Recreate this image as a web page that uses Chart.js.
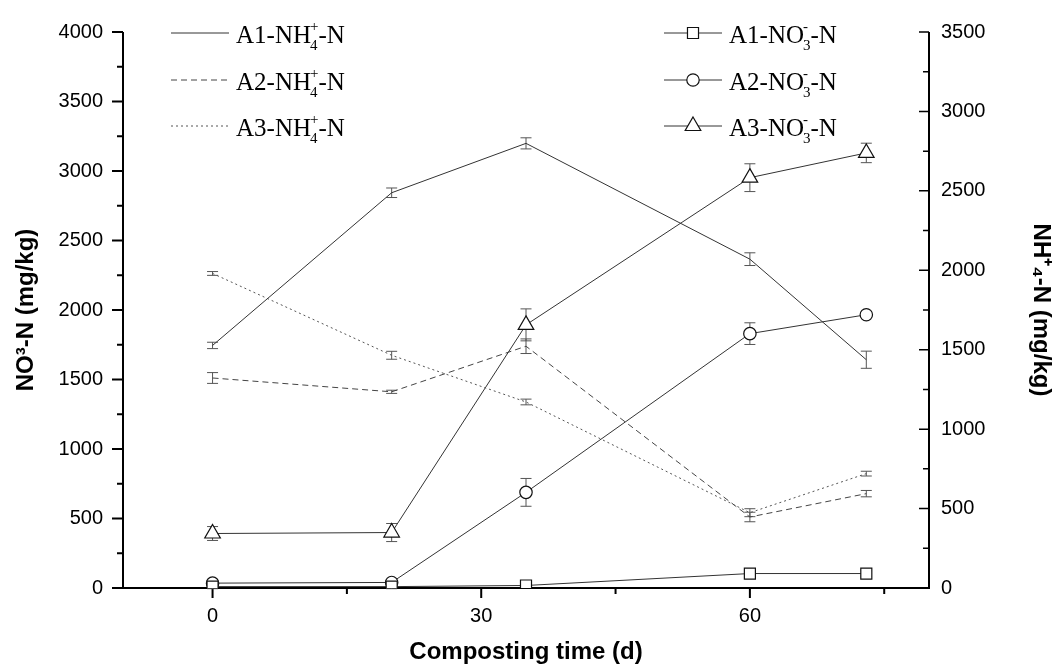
<!DOCTYPE html>
<html>
<head>
<meta charset="utf-8">
<title>NO3-N and NH4-N during composting</title>
<script src="https://cdn.jsdelivr.net/npm/chart.js@4.4.1/dist/chart.umd.min.js"></script>
<style>
    html, body { margin: 0; padding: 0; background: #fff; }
    canvas { display: block; }
</style>
</head>
<body>
<canvas id="compostChart" width="1055" height="667"></canvas>
<script>
// sampling days
const days = [0, 20, 35, 60, 73];

// NH4+-N (right axis, mg/kg)
const a1Nh4 = [1527, 2488, 2799, 2070, 1437];
const a2Nh4 = [1322, 1235, 1522, 447, 594];
const a3Nh4 = [1980, 1465, 1171, 474, 720];
const a1Nh4Err = [20, 30, 35, 40, 54];
const a2Nh4Err = [34, 10, 46, 30, 20];
const a3Nh4Err = [12, 25, 18, 25, 15];

// NO3--N (left axis, mg/kg)
const a1No3 = [10, 10, 18, 104, 104];
const a2No3 = [35, 40, 688, 1830, 1966];
const a3No3 = [392, 399, 1893, 2952, 3130];
const a1No3Err = [15, 15, 15, 20, 20];
const a2No3Err = [10, 10, 100, 78, 15];
const a3No3Err = [50, 65, 115, 100, 70];

// axis ticks
const xTicks = [0, 30, 60];
const xMinorTicks = [15, 45, 75];
const leftTicks = [0, 500, 1000, 1500, 2000, 2500, 3000, 3500, 4000];
const leftMinorTicks = [250, 750, 1250, 1750, 2250, 2750, 3250, 3750];
const rightTicks = [0, 500, 1000, 1500, 2000, 2500, 3000, 3500];
const rightMinorTicks = [250, 750, 1250, 1750, 2250, 2750, 3250];

// legend text pieces: main, superscript, subscript, tail
const legendTexts = [
    ['A1-NH', '+', '4', '-N'],
    ['A2-NH', '+', '4', '-N'],
    ['A3-NH', '+', '4', '-N'],
    ['A1-NO', '-', '3', '-N'],
    ['A2-NO', '-', '3', '-N'],
    ['A3-NO', '-', '3', '-N']
];

const sansFont = '"Liberation Sans", Arial, sans-serif';
const serifFont = '"Liberation Serif", "Times New Roman", serif';

function toPoints(values) {
    return days.map((d, i) => ({ x: d, y: values[i] }));
}

function nh4Set(values, errors, dash, color) {
    return {
        data: toPoints(values),
        errors: errors,
        yAxisID: 'y1',
        borderColor: color,
        borderWidth: 1,
        borderDash: dash,
        pointRadius: 0,
        fill: false,
        tension: 0
    };
}

function no3Set(values, errors, style, radius) {
    return {
        data: toPoints(values),
        errors: errors,
        yAxisID: 'y',
        borderColor: '#333',
        borderWidth: 1,
        pointStyle: style,
        pointRadius: radius,
        pointBorderColor: '#111',
        pointBorderWidth: 1.2,
        pointBackgroundColor: '#fff',
        fill: false,
        tension: 0
    };
}

const datasets = [
    nh4Set(a1Nh4, a1Nh4Err, [], '#333'),
    nh4Set(a2Nh4, a2Nh4Err, [6, 4], '#444'),
    nh4Set(a3Nh4, a3Nh4Err, [2, 3], '#555'),
    no3Set(a1No3, a1No3Err, 'rect', 7.8),
    no3Set(a2No3, a2No3Err, 'circle', 6.2),
    no3Set(a3No3, a3No3Err, 'triangle', 9)
];

// axis lines with outward / inward ticks, Origin style
const axesPlugin = {
    id: 'originAxes',
    beforeDatasetsDraw(chart) {
        const { ctx, chartArea: a, scales } = chart;
        ctx.save();
        ctx.strokeStyle = '#000';
        ctx.lineWidth = 2;
        ctx.beginPath();
        ctx.moveTo(a.left, a.top);
        ctx.lineTo(a.left, a.bottom);
        ctx.lineTo(a.right, a.bottom);
        ctx.lineTo(a.right, a.top);
        ctx.stroke();

        ctx.beginPath();
        xTicks.forEach(v => {
            const px = scales.x.getPixelForValue(v);
            ctx.moveTo(px, a.bottom); ctx.lineTo(px, a.bottom + 10);
        });
        xMinorTicks.forEach(v => {
            const px = scales.x.getPixelForValue(v);
            ctx.moveTo(px, a.bottom); ctx.lineTo(px, a.bottom + 6);
        });
        leftTicks.forEach(v => {
            const py = scales.y.getPixelForValue(v);
            ctx.moveTo(a.left, py); ctx.lineTo(a.left - 11, py);
        });
        leftMinorTicks.forEach(v => {
            const py = scales.y.getPixelForValue(v);
            ctx.moveTo(a.left, py); ctx.lineTo(a.left - 6, py);
        });
        ctx.stroke();

        ctx.lineWidth = 1.5;
        ctx.beginPath();
        rightTicks.forEach(v => {
            const py = scales.y1.getPixelForValue(v);
            ctx.moveTo(a.right, py); ctx.lineTo(a.right - 10, py);
        });
        rightMinorTicks.forEach(v => {
            const py = scales.y1.getPixelForValue(v);
            ctx.moveTo(a.right, py); ctx.lineTo(a.right - 6, py);
        });
        ctx.stroke();
        ctx.restore();
    }
};

const errorBarPlugin = {
    id: 'errorBars',
    beforeDatasetsDraw(chart) {
        const ctx = chart.ctx;
        const xScale = chart.scales.x;
        ctx.save();
        ctx.strokeStyle = '#555';
        ctx.lineWidth = 1;
        chart.data.datasets.forEach(ds => {
            const yScale = chart.scales[ds.yAxisID];
            ds.data.forEach((p, j) => {
                const px = xScale.getPixelForValue(p.x);
                const top = yScale.getPixelForValue(p.y + ds.errors[j]);
                const bottom = yScale.getPixelForValue(p.y - ds.errors[j]);
                ctx.beginPath();
                ctx.moveTo(px, top); ctx.lineTo(px, bottom);
                ctx.moveTo(px - 5.5, top); ctx.lineTo(px + 5.5, top);
                ctx.moveTo(px - 5.5, bottom); ctx.lineTo(px + 5.5, bottom);
                ctx.stroke();
            });
        });
        ctx.restore();
    }
};

// two-column legend with stacked super/subscripts
const legendPlugin = {
    id: 'stackedLegend',
    afterDraw(chart) {
        const ctx = chart.ctx;
        const rowY = [33, 80, 126];
        ctx.save();
        ctx.fillStyle = '#000';
        ctx.textBaseline = 'alphabetic';
        ctx.textAlign = 'left';
        chart.data.datasets.forEach((ds, i) => {
            const col = i < 3 ? 0 : 1;
            const y = rowY[i % 3];
            const x0 = col === 0 ? 171 : 664;
            const x1 = x0 + 58;

            ctx.save();
            ctx.strokeStyle = ds.borderColor;
            ctx.lineWidth = 1;
            ctx.setLineDash(ds.borderDash || []);
            ctx.beginPath();
            ctx.moveTo(x0, y); ctx.lineTo(x1, y);
            ctx.stroke();
            ctx.restore();

            if (ds.pointRadius > 0) {
                ctx.save();
                ctx.strokeStyle = ds.pointBorderColor;
                ctx.fillStyle = ds.pointBackgroundColor;
                ctx.lineWidth = ds.pointBorderWidth;
                Chart.helpers.drawPoint(ctx, { pointStyle: ds.pointStyle, radius: ds.pointRadius, rotation: 0, borderWidth: ds.pointBorderWidth }, (x0 + x1) / 2, y);
                ctx.restore();
            }

            const [main, sup, sub, tail] = legendTexts[i];
            const base = y + 10;
            let tx = x1 + 7;
            ctx.font = '25px ' + serifFont;
            ctx.fillText(main, tx, base);
            tx += ctx.measureText(main).width;
            ctx.font = '15px ' + serifFont;
            ctx.fillText(sup, tx - 1, base - 12);
            ctx.fillText(sub, tx - 1, base + 7);
            tx += Math.max(ctx.measureText(sup).width, ctx.measureText(sub).width) - 1;
            ctx.font = '25px ' + serifFont;
            ctx.fillText(tail, tx, base);
        });
        ctx.restore();
    }
};

const tickFont = { family: sansFont, size: 20 };
const titleFont = { family: sansFont, size: 24, weight: 'bold' };
const plainNumber = v => String(v);

new Chart(document.getElementById('compostChart'), {
    type: 'line',
    data: { datasets: datasets },
    options: {
        responsive: false,
        animation: false,
        events: [],
        layout: { padding: { top: 24, left: 0, right: 0, bottom: 0 } },
        plugins: {
            legend: { display: false },
            tooltip: { enabled: false }
        },
        scales: {
            x: {
                type: 'linear',
                position: 'bottom',
                min: -10,
                max: 80,
                afterBuildTicks: scale => { scale.ticks = xTicks.map(v => ({ value: v })); },
                afterFit: scale => { scale.height = 79; },
                grid: { display: false, drawTicks: false },
                border: { display: false },
                ticks: { font: tickFont, color: '#000', padding: 16, maxRotation: 0, callback: plainNumber },
                title: {
                    display: true,
                    text: 'Composting time (d)',
                    font: titleFont,
                    color: '#000',
                    padding: { top: 0, bottom: 0 }
                }
            },
            y: {
                type: 'linear',
                position: 'left',
                min: 0,
                max: 4000,
                afterBuildTicks: scale => { scale.ticks = leftTicks.map(v => ({ value: v })); },
                afterFit: scale => { scale.width = 123; },
                grid: { display: false, drawTicks: false },
                border: { display: false },
                ticks: { font: tickFont, color: '#000', padding: 20, callback: plainNumber },
                title: {
                    display: true,
                    text: 'NO³-N (mg/kg)',
                    font: titleFont,
                    color: '#000',
                    padding: { top: 12, bottom: 0 }
                }
            },
            y1: {
                type: 'linear',
                position: 'right',
                min: 0,
                max: 3500,
                afterBuildTicks: scale => { scale.ticks = rightTicks.map(v => ({ value: v })); },
                afterFit: scale => { scale.width = 126; },
                grid: { display: false, drawTicks: false },
                border: { display: false },
                ticks: { font: tickFont, color: '#000', padding: 12, callback: plainNumber },
                title: {
                    display: true,
                    text: 'NH⁺₄-N (mg/kg)',
                    font: titleFont,
                    color: '#000',
                    padding: { top: 0, bottom: 0 }
                }
            }
        }
    },
    plugins: [axesPlugin, errorBarPlugin, legendPlugin]
});
</script>
</body>
</html>
